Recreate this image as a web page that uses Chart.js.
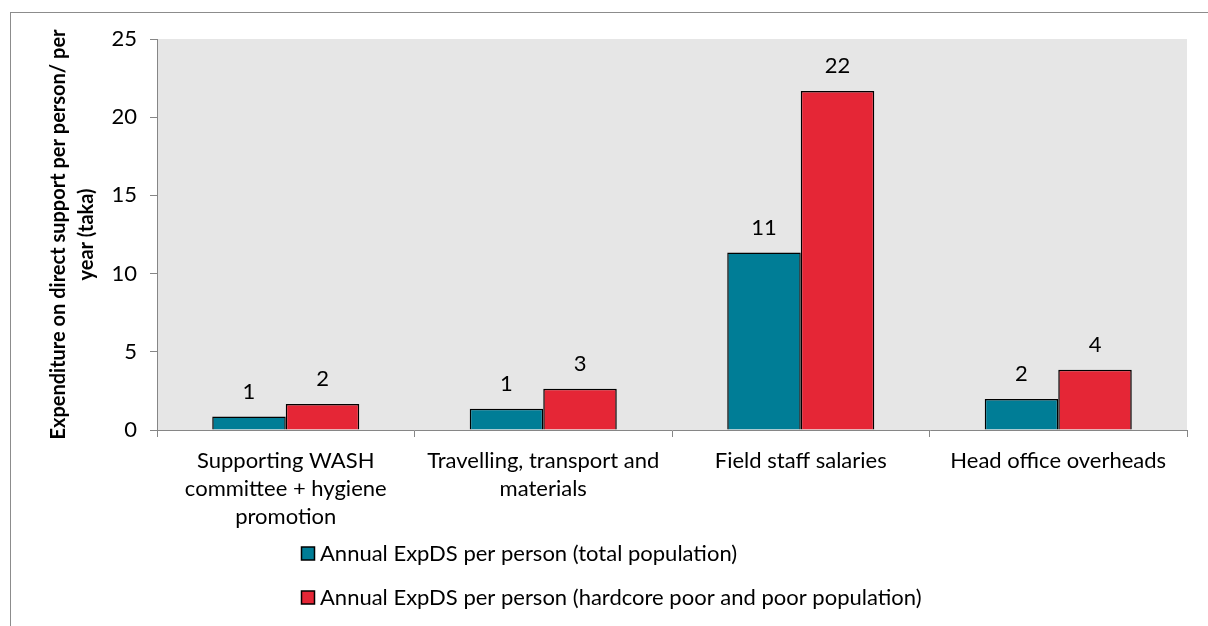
<!DOCTYPE html>
<html>
<head>
<meta charset="utf-8">
<script src="https://cdn.jsdelivr.net/npm/chart.js@4/dist/chart.umd.min.js"></script>
<style>
  html, body { margin: 0; padding: 0; background: #ffffff; }
  #wrap { width: 1208px; height: 626px; }
</style>
</head>
<body>
<div id="wrap"><canvas id="expChart" width="1208" height="626"></canvas></div>
<script>
var categories = [
    ['Supporting WASH', 'committee + hygiene', 'promotion'],
    ['Travelling, transport and', 'materials'],
    'Field staff salaries',
    'Head office overheads'
];
var totalPop = [0.86, 1.36, 11.35, 1.98];
var poorPop = [1.67, 2.63, 21.67, 3.85];
var seriesNames = [
    'Annual ExpDS per person (total population)',
    'Annual ExpDS per person (hardcore poor and poor population)'
];
var yTicks = [0, 5, 10, 15, 20, 25];
var yTitle = ['Expenditure on direct support per person/ per', 'year (taka)'];

var fontName = 'Lato';
var axisGray = '#868686';

// plot area fill + outer frame
var backdrop = {
    id: 'backdrop',
    beforeDraw(chart) {
        const ctx = chart.ctx;
        const a = chart.chartArea;
        ctx.save();
        ctx.strokeStyle = '#8c8c8c';
        ctx.lineWidth = 1;
        ctx.strokeRect(10.5, 12.5, chart.width + 20, chart.height + 20);
        ctx.fillStyle = '#e6e6e6';
        ctx.fillRect(a.left, a.top, a.right - a.left, a.bottom - a.top);
        ctx.restore();
    }
};

// value labels above bars, rounded like the source
var barValues = {
    id: 'barValues',
    afterDatasetsDraw(chart) {
        const ctx = chart.ctx;
        ctx.save();
        ctx.font = '22px ' + fontName;
        ctx.fillStyle = '#000';
        ctx.textAlign = 'center';
        ctx.textBaseline = 'middle';
        chart.data.datasets.forEach((ds, i) => {
            chart.getDatasetMeta(i).data.forEach((bar, j) => {
                ctx.fillText(Math.round(ds.data[j]), bar.x, bar.y - 25);
            });
        });
        ctx.restore();
    }
};

// stacked legend under the axis
var stackLegend = {
    id: 'stackLegend',
    afterDraw(chart) {
        const ctx = chart.ctx;
        ctx.save();
        ctx.font = '22px ' + fontName;
        ctx.textBaseline = 'middle';
        chart.data.datasets.forEach((ds, i) => {
            const cy = 554 + i * 44;
            ctx.fillStyle = ds.backgroundColor;
            ctx.fillRect(301.5, cy - 7, 13, 13);
            ctx.strokeStyle = '#000';
            ctx.lineWidth = 1.5;
            ctx.strokeRect(301.5, cy - 7, 13, 13);
            ctx.fillStyle = '#000';
            ctx.fillText(ds.label, 320, cy);
        });
        ctx.restore();
    }
};

var chart = new Chart(document.getElementById('expChart'), {
    type: 'bar',
    data: {
        labels: categories,
        datasets: [
            { label: seriesNames[0], data: totalPop, backgroundColor: '#007d96', borderColor: '#000', borderWidth: 1.5 },
            { label: seriesNames[1], data: poorPop, backgroundColor: '#e52636', borderColor: '#000', borderWidth: 1.5 }
        ]
    },
    options: {
        responsive: false,
        animation: false,
        devicePixelRatio: 1,
        categoryPercentage: 0.571,
        barPercentage: 1.0,
        layout: { padding: { top: 39, right: 21, left: 0, bottom: 0 } },
        plugins: {
            legend: { display: false },
            tooltip: { enabled: false }
        },
        scales: {
            x: {
                grid: { offset: true, drawOnChartArea: false, tickLength: 7, color: axisGray },
                border: { color: axisGray, width: 1 },
                ticks: { color: '#000', padding: 10, maxRotation: 0, autoSkip: false,
                         font: { family: fontName, size: 22, lineHeight: 1.27 } },
                afterFit(scale) { scale.height = 196; }
            },
            y: {
                min: 0,
                max: 25,
                afterBuildTicks(scale) { scale.ticks = yTicks.map(v => ({ value: v })); },
                grid: { drawOnChartArea: false, tickLength: 7, color: axisGray },
                border: { color: axisGray, width: 1 },
                ticks: { color: '#000', padding: 13, font: { family: fontName, size: 22 } },
                title: {
                    display: true,
                    text: yTitle,
                    color: '#000',
                    padding: { top: 45, bottom: 0 },
                    font: { family: fontName, size: 20, weight: 'bold', lineHeight: 1.4 }
                },
                afterFit(scale) { scale.width = 157; }
            }
        }
    },
    plugins: [backdrop, barValues, stackLegend]
});
</script>
</body>
</html>
